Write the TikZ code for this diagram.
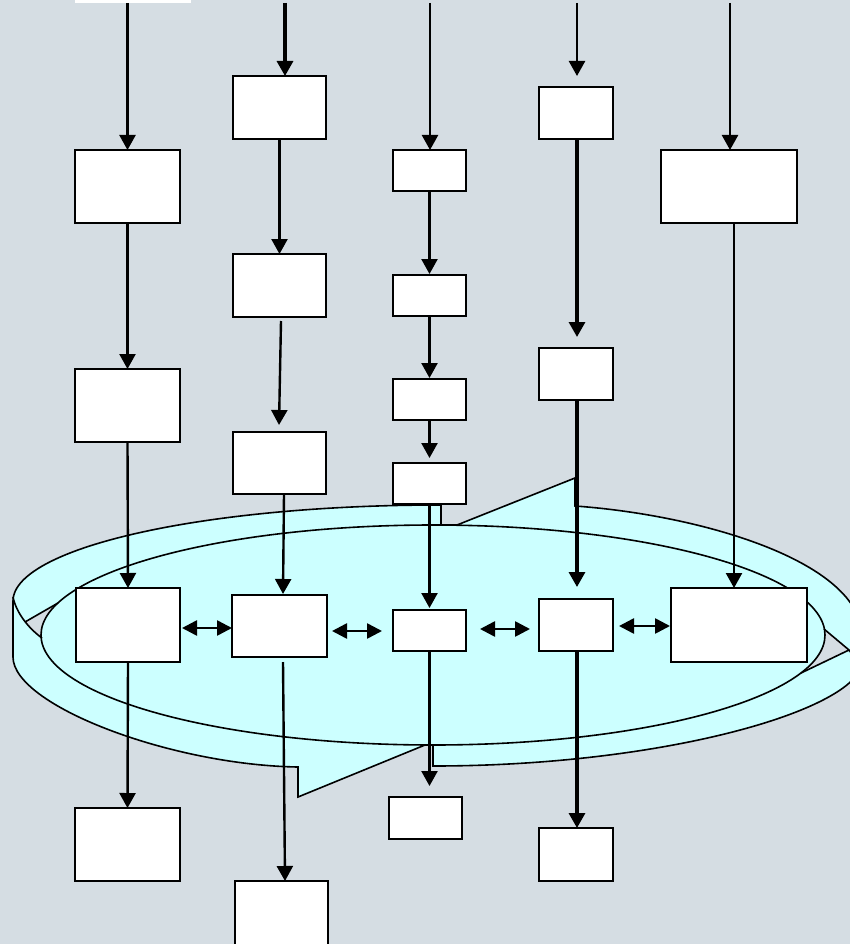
\documentclass[tikz,border=0pt]{standalone}
\usetikzlibrary{arrows.meta,calc}
\definecolor{bg}{RGB}{213,221,227}
\definecolor{band}{RGB}{204,255,255}
\begin{document}
\begin{tikzpicture}[x=1pt,y={(0pt,-1pt)},
  box/.style={draw=black, fill=white, line width=2.2pt, inner sep=0pt, outer sep=0pt},
  arr/.style={line width=2.4pt, -{Triangle[length=15pt,width=16pt]}},
  thickarr/.style={line width=3.2pt, -{Triangle[length=15pt,width=16pt]}},
  darr/.style={line width=2.6pt, {Triangle[length=15pt,width=15pt]}-{Triangle[length=15pt,width=15pt]}},
  bandline/.style={draw=black, line width=1.6pt, line join=miter}]
\useasboundingbox (0,0) rectangle (850,944);
\fill[bg] (0,0) rectangle (850,944);

% --- circular ribbon arrow ---
\path[fill=band, bandline]
 (13,657) -- (13,601)
 -- plot[domain=180:270, samples=60, variable=\t] ({438+425*cos(\t)},{601+96*sin(\t)})
 -- (441,505) -- (441,525) -- (457,525) -- (575,478) -- (575,506)
 .. controls (700,515) and (855,560) .. (862,632)
 -- (862,665)
 .. controls (850,712) and (660,766) .. (433,766)
 -- (433,745) -- (425,745) -- (298,797) -- (298,767)
 .. controls (170,765) and (13,705) .. (13,657)
 -- cycle;
\fill[bg] (25,622) -- plot[domain=196.9:178, samples=20, variable=\t] ({433+392*cos(\t)},{635+110*sin(\t)}) -- cycle;
\fill[bg] (849,650) -- plot[domain=-3:20, samples=20, variable=\t] ({433+392*cos(\t)},{635+110*sin(\t)}) -- cycle;
\draw[bandline] (433,635) ellipse [x radius=392, y radius=110];
\draw[bandline] (13,597) .. controls (16,612) and (28,628) .. (42,638);
\draw[bandline] (25,622) -- (58,603);
\draw[bandline] (824,629) -- (849,650) -- (862,668);
\draw[bandline] (849,650) -- (801,673);

% --- boxes ---
\node[fill=white, inner sep=0pt, outer sep=0pt, minimum width=116pt, minimum height=23pt] (top0) at (133,-8.5) {};
\node[box, minimum width=105pt, minimum height=73pt] (c1b1) at (127.5,186.5) {};
\node[box, minimum width=105pt, minimum height=73pt] (c1b2) at (127.5,405.5) {};
\node[box, minimum width=104pt, minimum height=74pt] (c1b3) at (128,625) {};
\node[box, minimum width=105pt, minimum height=73pt] (c1b4) at (127.5,844.5) {};

\node[box, minimum width=93pt, minimum height=63pt] (c2b1) at (279.5,107.5) {};
\node[box, minimum width=93pt, minimum height=63pt] (c2b2) at (279.5,285.5) {};
\node[box, minimum width=93pt, minimum height=62pt] (c2b3) at (279.5,463) {};
\node[box, minimum width=95pt, minimum height=62pt] (c2b4) at (279.5,626) {};
\node[box, minimum width=93pt, minimum height=69pt] (c2b5) at (281.5,915.5) {};

\node[box, minimum width=73pt, minimum height=41pt] (c3b1) at (429.5,170.5) {};
\node[box, minimum width=73pt, minimum height=41pt] (c3b2) at (429.5,295.5) {};
\node[box, minimum width=73pt, minimum height=41pt] (c3b3) at (429.5,399.5) {};
\node[box, minimum width=73pt, minimum height=41pt] (c3b4) at (429.5,483.5) {};
\node[box, minimum width=73pt, minimum height=41pt] (c3b5) at (429.5,630.5) {};
\node[box, minimum width=73pt, minimum height=42pt] (c3b6) at (425.5,818) {};

\node[box, minimum width=74pt, minimum height=52pt] (c4b1) at (576,113) {};
\node[box, minimum width=74pt, minimum height=52pt] (c4b2) at (576,374) {};
\node[box, minimum width=74pt, minimum height=52pt] (c4b3) at (576,625) {};
\node[box, minimum width=74pt, minimum height=53pt] (c4b4) at (576,854.5) {};

\node[box, minimum width=136pt, minimum height=73pt] (c5b1) at (729,186.5) {};
\node[box, minimum width=136pt, minimum height=74pt] (c5b2) at (739,625) {};

% --- free top ends ---
\coordinate (t2) at (285,3);
\coordinate (t3) at (430,3);
\coordinate (t4) at (577,3);
\coordinate (t5) at (730,3);

% --- column 1 ---
\draw[arr] (top0.south -| c1b1.north) -- (c1b1.north);
\draw[arr] (c1b1.south) -- (c1b2.north);
\draw[arr] (c1b2.south) -- (c1b3.north);
\draw[arr] (c1b3.south) -- (c1b4.north);

% --- column 2 ---
\draw[thickarr] (t2) -- (t2 |- c2b1.north);
\draw[arr] (c2b1.south) -- (c2b2.north);
\draw[arr] ($(c2b2.south)+(1.5,4)$) -- ($(c2b3.north)+(-0.5,-7)$);
\draw[arr] ($(c2b3.south)+(4.5,0)$) -- ($(c2b4.north)+(3.5,-1)$);
\draw[arr] ($(c2b4.south)+(3.5,5)$) -- ($(c2b5.north)+(3.5,0)$);

% --- column 3 ---
\draw[arr] (t3) -- (t3 |- c3b1.north);
\draw[arr] (c3b1.south) -- ($(c3b2.north)+(0,-1)$);
\draw[arr] (c3b2.south) -- ($(c3b3.north)+(0,-1)$);
\draw[arr] (c3b3.south) -- ($(c3b4.north)+(0,-5)$);
\draw[arr] (c3b4.south) -- ($(c3b5.north)+(0,-2)$);
\draw[arr] (c3b5.south) -- ($(c3b6.north -| c3b5.south)+(0,-11)$);

% --- column 4 ---
\draw[arr] (t4) -- ($(t4 |- c4b1.north)+(0,-11)$);
\draw[thickarr] (c4b1.south -| t4) -- ($(c4b2.north -| t4)+(0,-11)$);
\draw[thickarr] (c4b2.south -| t4) -- ($(c4b3.north -| t4)+(0,-12)$);
\draw[thickarr] (c4b3.south -| t4) -- (c4b4.north -| t4);

% --- column 5 ---
\draw[arr] (t5) -- (t5 |- c5b1.north);
\draw[arr] ($(c5b1.south)+(5,0)$) -- ($(c5b2.north)+(-5,0)$);

% --- two-way arrows ---
\draw[darr] ($(c1b3.east)+(2,3)$) -- ($(c2b4.west)+(0,2)$);
\draw[darr] ($(c2b4.east)+(5,5)$) -- ($(c3b5.west)+(-11,0.5)$);
\draw[darr] ($(c3b5.east)+(14,-1.5)$) -- ($(c4b3.west)+(-9,4)$);
\draw[darr] ($(c4b3.east)+(6,1)$) -- ($(c5b2.west)+(-1,1)$);
\end{tikzpicture}
\end{document}
